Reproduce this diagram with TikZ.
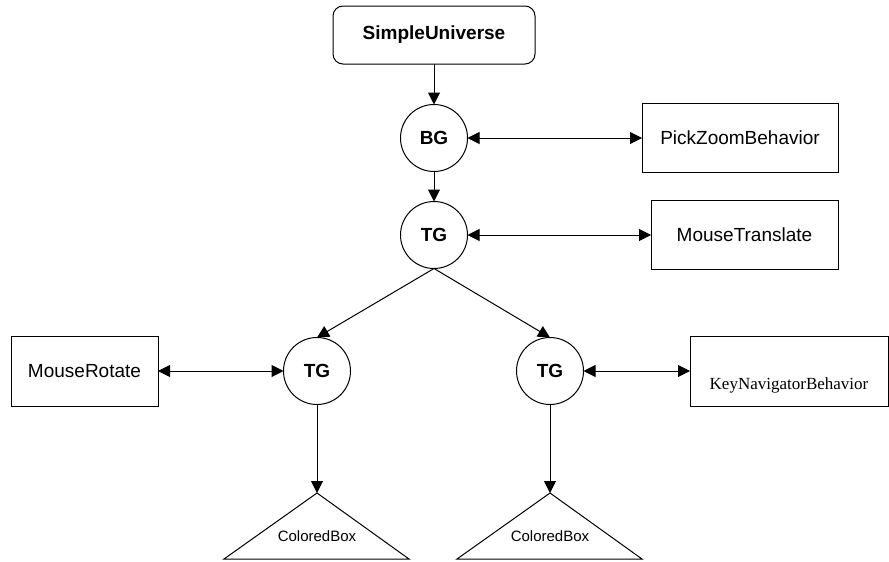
\documentclass[tikz,border=0pt]{standalone}
\usepackage{fontspec}
\setmainfont{Liberation Sans}
\newfontfamily\timesfont{Liberation Serif}
\usetikzlibrary{arrows.meta}
\begin{document}
\begin{tikzpicture}[x=1pt,y=-1pt,
  every node/.style={inner sep=0pt, outer sep=0pt},
  conn/.style={draw=black, line width=1pt, -{Triangle[length=12pt,width=12pt]}},
  biconn/.style={draw=black, line width=1pt, {Triangle[length=12pt,width=12pt]}-{Triangle[length=12pt,width=12pt]}},
  grp/.style={circle, draw=black, line width=1pt, minimum size=67pt, font=\fontsize{19}{22}\selectfont\bfseries},
  beh/.style={rectangle, draw=black, line width=1pt, font=\fontsize{19}{22}\selectfont},
  shapeline/.style={draw=black, line width=1pt}
]
\useasboundingbox (0,0) rectangle (889,562);
% root
\node[beh, rounded corners=10pt, minimum width=202pt, minimum height=58pt, font=\fontsize{19}{22}\selectfont\bfseries] (su) at (434,35) {SimpleUniverse};
\node[grp] (bg) at (434,138) {BG};
\node[grp] (tg1) at (434,235) {TG};
\node[grp] (tg2) at (317,371) {TG};
\node[grp] (tg3) at (550,371) {TG};
\node[beh, minimum width=196pt, minimum height=69pt] (pz) at (740,138) {PickZoomBehavior};
\node[beh, minimum width=187pt, minimum height=69pt] (mt) at (744.5,235) {MouseTranslate};
\node[beh, minimum width=147pt, minimum height=70pt] (mr) at (84.5,371) {MouseRotate};
\node[beh, minimum width=198pt, minimum height=70pt] (kn) at (789,371) {};
\node[font=\fontsize{17}{20}\selectfont\timesfont] (kntext) at (789,385) {KeyNavigatorBehavior};
% triangles (ColoredBox)
\coordinate (cb1) at (317,493);
\coordinate (cb2) at (550,493);
\draw[shapeline, line join=miter] (cb1) -- (409,559) -- (224,559) -- cycle;
\draw[shapeline, line join=miter] (cb2) -- (642,559) -- (457,559) -- cycle;
\node[font=\fontsize{15}{18}\selectfont] (cb1text) at (317,536) {ColoredBox};
\node[font=\fontsize{15}{18}\selectfont] (cb2text) at (550,536) {ColoredBox};
% connectors
\draw[conn] (su.south) -- (bg.north);
\draw[conn] (bg.south) -- (tg1.north);
\draw[conn] (tg1.south) -- (tg2.north);
\draw[conn] (tg1.south) -- (tg3.north);
\draw[conn] (tg2.south) -- (cb1);
\draw[conn] (tg3.south) -- (cb2);
\draw[biconn] (bg.east) -- (pz.west);
\draw[biconn] (tg1.east) -- (mt.west);
\draw[biconn] (mr.east) -- (tg2.west);
\draw[biconn] (tg3.east) -- (kn.west);
\end{tikzpicture}
\end{document}
